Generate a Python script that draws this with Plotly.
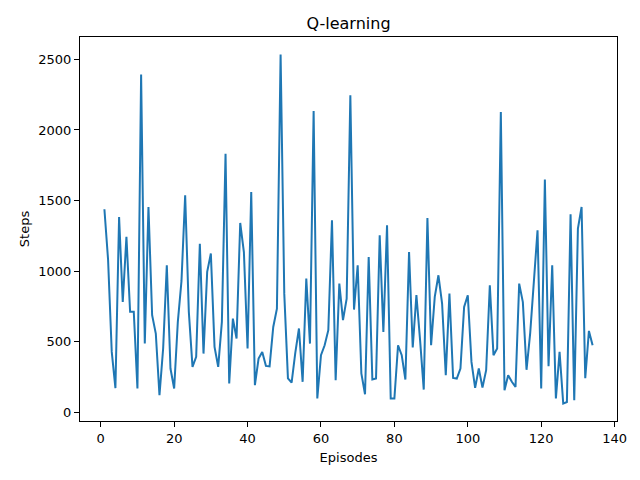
import plotly.graph_objects as go

# steps per episode
episodes = list(range(1, 135))
steps = [
    1438, 1080, 427, 170, 1383, 781, 1242, 711, 712, 168,
    2392, 486, 1454, 687, 557, 120, 451, 1041, 309, 168,
    640, 930, 1537, 711, 321, 392, 1194, 415, 994, 1124,
    463, 321, 640, 1832, 203, 663, 522, 1341, 1135, 451,
    1560, 191, 380, 427, 328, 325, 604, 734, 2535, 840,
    240, 210, 420, 593, 215, 947, 486, 2134, 97, 404,
    474, 581, 1360, 227, 911, 652, 805, 2245, 727, 1041,
    274, 127, 1100, 231, 238, 1253, 569, 1324, 97, 97,
    474, 404, 231, 1135, 458, 829, 510, 160, 1376, 474,
    817, 970, 770, 262, 840, 243, 238, 309, 746, 829,
    356, 172, 309, 174, 297, 899, 404, 451, 2127, 156,
    262, 215, 179, 911, 780, 300, 560, 930, 1289, 168,
    1648, 325, 1041, 97, 427, 61, 72, 1402, 85, 1301,
    1454, 240, 576, 474,
]

x_ticks = [0, 20, 40, 60, 80, 100, 120, 140]
y_ticks = [0, 500, 1000, 1500, 2000, 2500]

font = "DejaVu Sans"

# matplotlib style 5% margins
xpad = (max(episodes) - min(episodes)) * 0.05
ypad = (max(steps) - min(steps)) * 0.05

fig = go.Figure()
fig.add_trace(go.Scatter(x=episodes, y=steps, mode="lines",
                         line=dict(color="#1f77b4", width=2)))

fig.update_layout(
    width=640, height=480,
    margin=dict(l=72, r=31, t=29, b=67),
    paper_bgcolor="white", plot_bgcolor="white",
    showlegend=False,
    font=dict(family=font, size=13, color="black"),
    title=dict(text="Q-learning", x=0.5, xref="paper", y=1 - 15 / 480,
               yref="container", xanchor="center", yanchor="middle",
               font=dict(family=font, size=16, color="black")),
)

axis_style = dict(showgrid=False, zeroline=False, showline=True, linecolor="black",
                  linewidth=1, mirror=True, ticks="outside", ticklen=5,
                  tickcolor="black", tickwidth=1,
                  tickfont=dict(family=font, size=13, color="black"))

fig.update_xaxes(range=[min(episodes) - xpad, max(episodes) + xpad],
                 tickvals=x_ticks, ticktext=[str(v) for v in x_ticks],
                 title=dict(text="Episodes", standoff=8,
                            font=dict(family=font, size=13, color="black")),
                 **axis_style)
fig.update_yaxes(range=[min(steps) - ypad, max(steps) + ypad],
                 tickvals=y_ticks, ticktext=[str(v) for v in y_ticks],
                 title=dict(text="Steps", standoff=5,
                            font=dict(family=font, size=13, color="black")),
                 **axis_style)

fig.write_html("out.html")
